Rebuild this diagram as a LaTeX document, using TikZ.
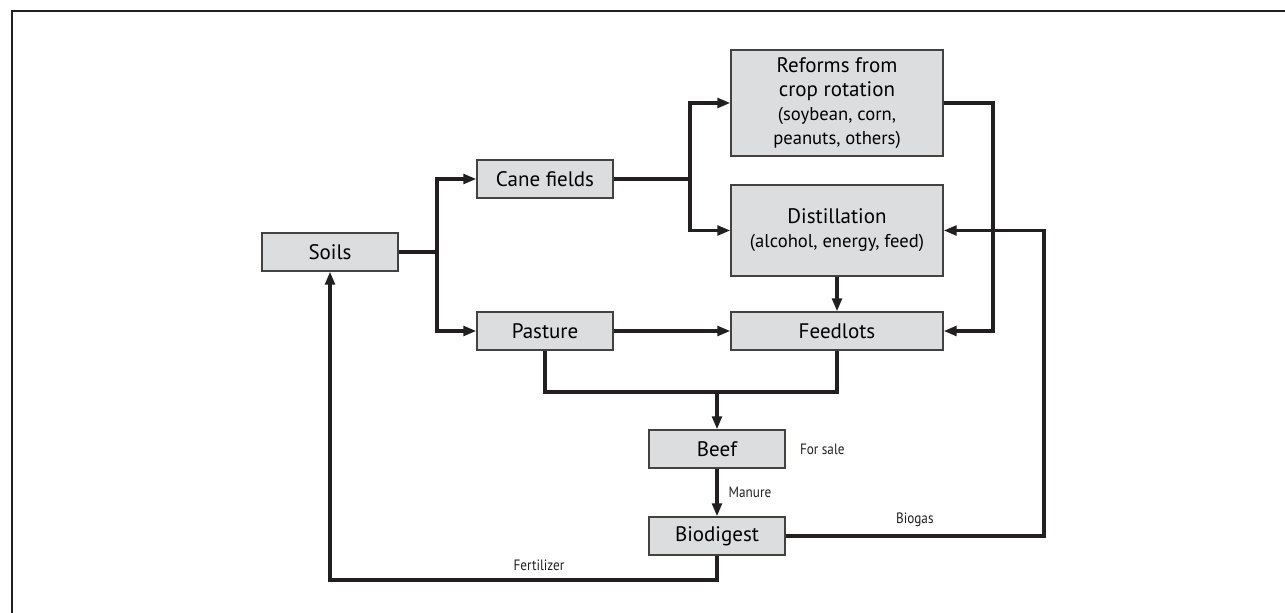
\documentclass[tikz,border=0pt]{standalone}
\usepackage{fontspec}
\setmainfont{PT Sans}
\newfontfamily\etiqfont[FakeStretch=0.88]{PT Sans}
\usepackage{tikz}
\usetikzlibrary{arrows.meta, positioning, calc}
\definecolor{grisfondo}{HTML}{DCDDDE}
\definecolor{tinta}{HTML}{231F20}
\newcommand{\chica}{\fontsize{9.3}{11.5}\selectfont}
\tikzset{
  caja/.style={draw=tinta!85, fill=grisfondo, line width=0.6pt, align=center, font=\fontsize{10.5}{12}\selectfont, inner sep=2pt, minimum height=19pt},
  corta/.style={caja, minimum width=68pt},
  ancha/.style={caja, minimum width=106pt},
  linea/.style={line width=1.7pt, color=tinta},
  flecha/.style={linea, -{Triangle[length=6.5pt, width=4.8pt]}},
  etiq/.style={font=\etiqfont\fontsize{7.5}{9}\selectfont, text=tinta, inner sep=1pt},
}

\begin{document}
\begin{tikzpicture}[x=0.5pt, y=-0.5pt]
  \useasboundingbox (0,0) rectangle (1285,613);
  \draw[line width=1pt, color=tinta] (12,613) -- (12,11) -- (1285,11);

  \node[corta] (suelos) at (330,252) {Soils};
  \node[corta] (cana) at (545,179) {Cane fields};
  \node[corta] (pasto) at (545,331) {Pasture};
  \node[ancha, minimum height=53pt] (reformas) at (837,103) {Reforms from\\crop rotation\\\chica(soybean, corn,\\\chica peanuts, others)};
  \node[ancha, minimum height=45.5pt] (destil) at (837,230.5) {Distillation\\\chica(alcohol, energy, feed)};
  \node[ancha] (corrales) at (837,331) {Feedlots};
  \node[corta] (carne) at (717,449) {Beef};
  \node[corta] (biodig) at (717,536) {Biodigest};
  \node[etiq, right=6pt of carne] (venta) {For sale};

  \coordinate (j1) at (437,252);
  \coordinate (j2) at (690,179);
  \coordinate (j3) at (993,103);
  \coordinate (j4) at (717,392);
  \coordinate (j5) at (1044,536);
  \coordinate (j6) at (717,580);

  \draw[linea] (suelos.east) -- (j1);
  \draw[flecha] (j1) |- (cana.west);
  \draw[flecha] (j1) |- (pasto.west);
  \draw[linea] (cana.east) -- (j2);
  \draw[flecha] (j2) |- (reformas.west);
  \draw[flecha] (j2) |- (destil.west);
  \draw[flecha] (reformas.east) -- (j3) |- (corrales.east);
  \draw[flecha] (destil) -- (corrales);
  \draw[flecha] (pasto) -- (corrales);
  \draw[linea] (pasto.south) |- (j4) -| (corrales.south);
  \draw[flecha] (j4) -- (carne);
  \draw[flecha] (carne) -- node[etiq, right=4pt] {Manure} (biodig);
  \draw[flecha] (biodig.east) -- node[etiq, above=3pt] {Biogas} (j5) |- (destil.east);
  \draw[flecha] (biodig.south) -- (j6) -| node[etiq, pos=0.23, above=3pt] {Fertilizer} (suelos.south);
\end{tikzpicture}
\end{document}
